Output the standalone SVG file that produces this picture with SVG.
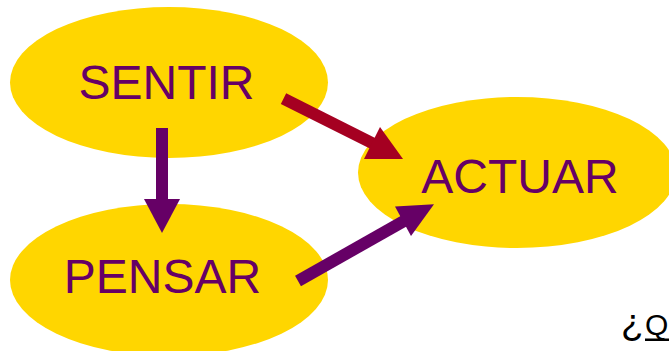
<svg xmlns="http://www.w3.org/2000/svg" width="669" height="351" viewBox="0 0 669 351">
<style>
.node ellipse{fill:#FFD600;}
.node text{font-family:"Liberation Sans",Arial,sans-serif;font-size:48px;fill:#660066;text-anchor:middle;}
.shaft{stroke-width:12;fill:none;}
.q{font-family:"Liberation Sans",Arial,sans-serif;font-size:30px;fill:#000;}
</style>
<rect width="669" height="351" fill="#fff"/>
<g id="sentir" class="node">
<ellipse cx="169" cy="82.5" rx="159" ry="75.5"/>
<text x="166.5" y="99">SENTIR</text>
</g>
<g id="pensar" class="node">
<ellipse cx="169" cy="280" rx="159" ry="76"/>
<text x="162.5" y="293">PENSAR</text>
</g>
<g id="actuar" class="node">
<ellipse cx="517" cy="172.5" rx="159" ry="75.5"/>
<text x="520" y="193">ACTUAR</text>
</g>
<g id="connectors">
<line class="shaft" x1="162" y1="128" x2="162" y2="200" stroke="#660066"/>
<polygon points="144,199 180,199 162,233" fill="#660066"/>
<line class="shaft" x1="283.5" y1="98.7" x2="373" y2="143.5" stroke="#A50021"/>
<polygon points="380,127 364,159 403,159" fill="#A50021"/>
<line class="shaft" x1="298" y1="281" x2="404" y2="221" stroke="#660066"/>
<polygon points="395,206.5 411,236 434,204.3" fill="#660066"/>
</g>
<text class="q" x="621" y="335"><tspan font-size="37">¿</tspan><tspan x="645">Q</tspan></text>
<rect x="645" y="338.5" width="24" height="2.5" fill="#000"/>
</svg>
